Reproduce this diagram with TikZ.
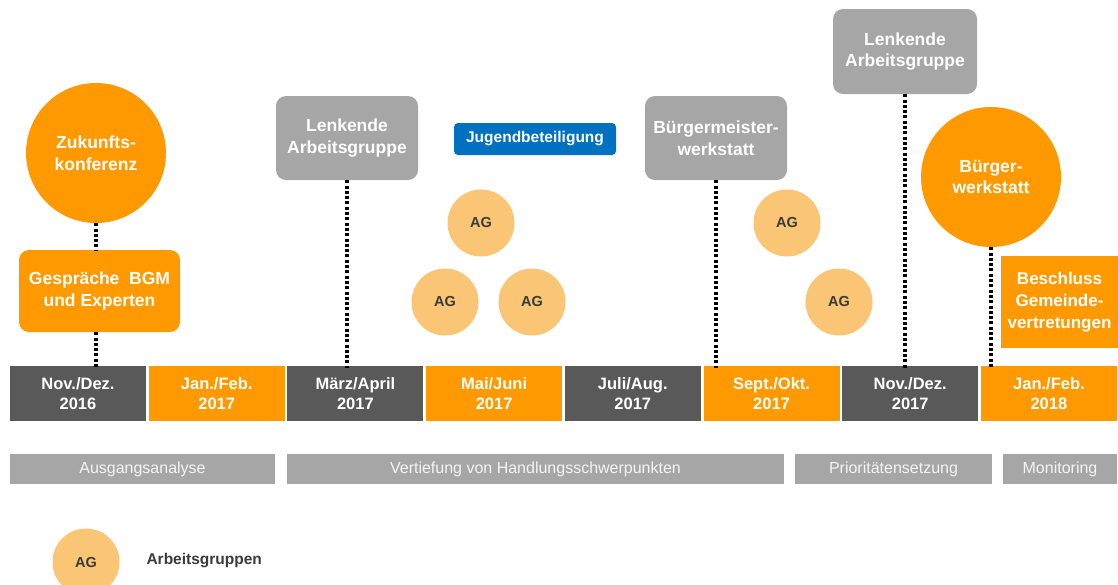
\documentclass[tikz,border=0pt]{standalone}
\usepackage{fontspec}
\setmainfont{Liberation Sans}
\definecolor{darkbox}{HTML}{595959}
\definecolor{orangebox}{HTML}{FF9900}
\definecolor{graybox}{HTML}{A6A6A6}
\definecolor{phasetext}{HTML}{F4F4F4}
\definecolor{agfill}{HTML}{FAC574}
\definecolor{agtext}{HTML}{3A3A3A}
\definecolor{bluebox}{HTML}{0070C0}
\tikzset{
  month/.style={rectangle, minimum width=136, minimum height=55, inner sep=0, text=white,
    font=\fontsize{16.5}{19.5}\selectfont\bfseries, align=center},
  mdark/.style={month, fill=darkbox},
  morange/.style={month, fill=orangebox},
  phase/.style={rectangle, fill=graybox, minimum height=30, inner sep=0, text=phasetext,
    font=\fontsize{16}{18}\selectfont},
  callout/.style={rectangle, rounded corners=10, fill=graybox, text=white, inner sep=0,
    font=\fontsize{17.5}{21.5}\selectfont\bfseries, align=center},
  ocallout/.style={callout, fill=orangebox},
  bigcircle/.style={circle, fill=orangebox, minimum size=140, inner sep=0, text=white,
    font=\fontsize{17.5}{21.5}\selectfont\bfseries, align=center},
  ag/.style={circle, fill=agfill, minimum size=67, inner sep=0, text=agtext,
    font=\fontsize{14.5}{16}\selectfont\bfseries},
  dotline/.style={line width=3.2, dash pattern=on 3 off 2.3, black}
}
\begin{document}
\begin{tikzpicture}[x=1pt,y=-1pt]
\useasboundingbox (0,0) rectangle (1118,584);
% timeline
\node[mdark]   (m1) at ({78+0*138.7},393.5) {Nov./Dez.\\2016};
\node[morange] (m2) at ({78+1*138.7},393.5) {Jan./Feb.\\2017};
\node[mdark]   (m3) at ({78+2*138.7},393.5) {März/April\\2017};
\node[morange] (m4) at ({78+3*138.7},393.5) {Mai/Juni\\2017};
\node[mdark]   (m5) at ({78+4*138.7},393.5) {Juli/Aug.\\2017};
\node[morange] (m6) at ({78+5*138.7},393.5) {Sept./Okt.\\2017};
\node[mdark]   (m7) at ({78+6*138.7},393.5) {Nov./Dez.\\2017};
\node[morange] (m8) at ({78+7*138.7},393.5) {Jan./Feb.\\2018};
% phases
\node[phase, minimum width=265] (p1) at (142.5,469) {Ausgangsanalyse};
\node[phase, minimum width=497] (p2) at (535.5,469) {Vertiefung von Handlungsschwerpunkten};
\node[phase, minimum width=197] (p3) at (893.5,469) {Prioritätensetzung};
\node[phase, minimum width=114] (p4) at (1060,469) {Monitoring};
% events
\node[bigcircle] (zk) at (96,153) {Zukunfts-\\konferenz};
\node[ocallout, minimum width=161, minimum height=82] (gb) at (99.5,291) {Gespräche\ \ BGM\\und Experten};
\node[callout, minimum width=142, minimum height=84] (lag1) at (347,138) {Lenkende\\Arbeitsgruppe};
\node[rectangle, rounded corners=4, fill=bluebox, text=white, minimum width=162, minimum height=32,
  inner sep=0, font=\fontsize{15.5}{18}\selectfont\bfseries] (jb) at (535,139) {Jugendbeteiligung};
\node[callout, minimum width=142, minimum height=84] (bmw) at (716,138) {Bürgermeister-\\werkstatt};
\node[callout, minimum width=144, minimum height=85] (lag2) at (905,51.5) {Lenkende\\Arbeitsgruppe};
\node[bigcircle] (bw) at (991,177) {Bürger-\\werkstatt};
\node[rectangle, fill=orangebox, text=white, minimum width=117, minimum height=92, inner sep=0,
  font=\fontsize{17}{22}\selectfont\bfseries, align=center] (bs) at (1059.5,302) {Beschluss\\Gemeinde-\\vertretungen};
% AG circles
\node[ag] (ag1) at (481,223) {AG};
\node[ag] (ag2) at (445,302) {AG};
\node[ag] (ag3) at (532,302) {AG};
\node[ag] (ag4) at (787,223) {AG};
\node[ag] (ag5) at (839,302) {AG};
% legend
\node[ag] (agl) at (86,562) {AG};
\node[anchor=west, text=agtext, font=\fontsize{15.5}{18}\selectfont\bfseries] (lgt) at (143,561) {Arbeitsgruppen};
% dotted connectors
\draw[dotline] (zk.south) -- (zk.south |- gb.north);
\draw[dotline] (zk.south |- gb.south) -- ([yshift=-2]zk.south |- m1.north);
\draw[dotline] (lag1.south) -- ([yshift=-2]lag1.south |- m3.north);
\draw[dotline] (bmw.south) -- ([yshift=-2]bmw.south |- m6.north);
\draw[dotline] (lag2.south) -- ([yshift=-2]lag2.south |- m7.north);
\draw[dotline] (bw.south) -- ([yshift=-2]bw.south |- m8.north);
\end{tikzpicture}
\end{document}
